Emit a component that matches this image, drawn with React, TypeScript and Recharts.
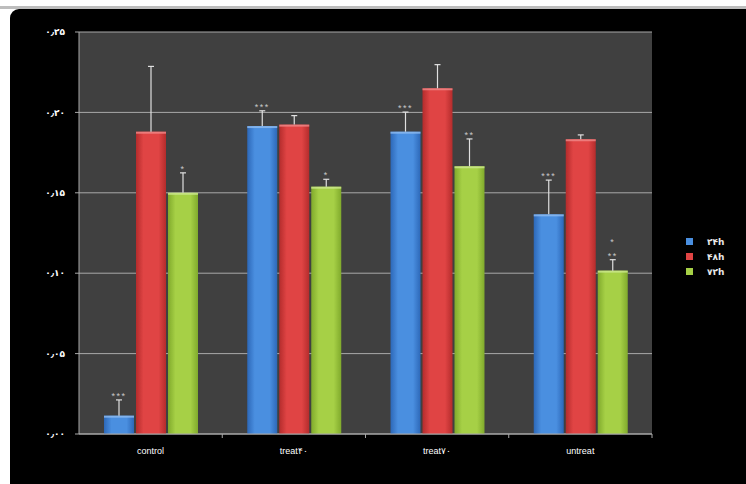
import React from "react";
import { Bar, BarChart, CartesianGrid, XAxis, YAxis } from "recharts";

const categories = ["control", "treat۴۰", "treat۷۰", "untreat"];
const series24h = [0.0114, 0.1915, 0.188, 0.1366];
const series48h = [0.188, 0.1924, 0.215, 0.1833];
const series72h = [0.15, 0.1538, 0.1665, 0.1016];
const error24h = [0.0098, 0.0095, 0.0122, 0.0213];
const error48h = [0.0406, 0.0056, 0.0147, 0.0027];
const error72h = [0.0124, 0.0046, 0.017, 0.0068];
const stars24h = ["***", "***", "***", "***"];
const stars48h = ["", "", "", ""];
const stars72h = ["*", "*", "**", "*|**"];
const yTicks = [0, 0.05, 0.1, 0.15, 0.2, 0.25];
const legendNames = ["۲۴h", "۴۸h", "۷۲h"];

const data = categories.map((name, i) => ({
  name,
  h24: series24h[i],
  h48: series48h[i],
  h72: series72h[i],
}));

const errors: Record<string, number[]> = { h24: error24h, h48: error48h, h72: error72h };
const stars: Record<string, string[]> = { h24: stars24h, h48: stars48h, h72: stars72h };

const faDigits = "۰۱۲۳۴۵۶۷۸۹";
const toFa = (s: string) => s.replace(/\d/g, (d) => faDigits[Number(d)]).replace(".", "٫");

const colors = {
  h24: { mid: "#4a8fe0", edge: "#2d68b8", top: "#8fbcf0" },
  h48: { mid: "#e04444", edge: "#b42c2c", top: "#f08a8a" },
  h72: { mid: "#a6d046", edge: "#80aa2c", top: "#cde88e" },
};

function makeShape(key: "h24" | "h48" | "h72") {
  return (props: any) => {
    const { x, y, width, height, index } = props;
    const value = data[index][key];
    const pxPerUnit = value > 0 ? height / value : 0;
    const errLen = errors[key][index] * pxPerUnit;
    const cx = x + width / 2;
    const errTop = y - errLen;
    const label = stars[key][index];
    const lines = label ? label.split("|") : [];
    return (
      <g>
        <rect x={x} y={y} width={width} height={height} fill={`url(#grad-${key})`} />
        <rect x={x} y={y} width={width} height={2} fill={colors[key].top} opacity={0.8} />
        <line x1={cx} y1={y} x2={cx} y2={errTop} stroke="#e0e0e0" strokeWidth={1.2} />
        <line x1={cx - 3} y1={errTop} x2={cx + 3} y2={errTop} stroke="#e0e0e0" strokeWidth={1.2} />
        {lines.map((t, li) => (
          <text
            key={li}
            x={cx}
            y={errTop - 1 - (lines.length - 1 - li) * 14}
            textAnchor="middle"
            fill="#c8c8c8"
            fontSize={9}
            letterSpacing={1.5}
            fontFamily="Liberation Sans, Arial, sans-serif"
          >
            {t}
          </text>
        ))}
      </g>
    );
  };
}

function CategoryTick(props: any) {
  const { x, y, payload } = props;
  const half = payload.offset ?? 0;
  return (
    <g>
      <line x1={x + half} y1={y - 8} x2={x + half} y2={y - 4} stroke="#a8a8a8" />
      <text
        x={x}
        y={y + 12}
        textAnchor="middle"
        fill="#ffffff"
        fontSize={9}
        fontFamily="Liberation Sans, Arial, sans-serif"
      >
        {payload.value}
      </text>
    </g>
  );
}

export default function App() {
  return (
    <div style={{ position: "absolute", left: 0, top: 0, width: 746, height: 484, background: "#ffffff", overflow: "hidden" }}>
      <div style={{ position: "absolute", left: 0, top: 6, width: 746, height: 3, background: "#bdbdbd" }} />
      <div
        style={{
          position: "absolute",
          left: 10,
          top: 9,
          width: 740,
          height: 480,
          background: "#000000",
          borderTopLeftRadius: 9,
        }}
      />
      <div style={{ position: "absolute", left: 0, top: 0 }}>
        <BarChart
          width={746}
          height={484}
          data={data}
          margin={{ top: 32, right: 94, bottom: 0, left: 0 }}
          barCategoryGap="17%"
          barGap={2}
        >
          <defs>
            {(["h24", "h48", "h72"] as const).map((k) => (
              <linearGradient key={k} id={`grad-${k}`} x1="0" y1="0" x2="1" y2="0">
                <stop offset="0%" stopColor={colors[k].edge} />
                <stop offset="25%" stopColor={colors[k].mid} />
                <stop offset="75%" stopColor={colors[k].mid} />
                <stop offset="100%" stopColor={colors[k].edge} />
              </linearGradient>
            ))}
          </defs>
          <CartesianGrid vertical={false} stroke="#a8a8a8" fill="#404040" fillOpacity={1} />
          <XAxis
            dataKey="name"
            height={50}
            axisLine={{ stroke: "#a8a8a8" }}
            tickLine={false}
            tick={<CategoryTick />}
            interval={0}
          />
          <YAxis
            width={79}
            domain={[0, 0.25]}
            ticks={yTicks}
            axisLine={{ stroke: "#a8a8a8" }}
            tickLine={{ stroke: "#a8a8a8" }}
            tickSize={4}
            tickMargin={10}
            tickFormatter={(v: number) => toFa(v.toFixed(2))}
            tick={{ fill: "#ffffff", fontSize: 9, letterSpacing: 1, fontFamily: "DejaVu Sans, sans-serif", fontWeight: "bold" }}
          />
          <Bar dataKey="h24" barSize={30} shape={makeShape("h24")} isAnimationActive={false} />
          <Bar dataKey="h48" barSize={30} shape={makeShape("h48")} isAnimationActive={false} />
          <Bar dataKey="h72" barSize={30} shape={makeShape("h72")} isAnimationActive={false} />
        </BarChart>
      </div>
      <div style={{ position: "absolute", left: 686, top: 234, fontFamily: "DejaVu Sans, sans-serif", fontSize: 9, color: "#e8e8e8", fontWeight: "bold" }}>
        {legendNames.map((n, i) => (
          <div key={n} style={{ display: "flex", alignItems: "center", height: 15 }}>
            <span
              style={{
                display: "inline-block",
                width: 7,
                height: 7,
                marginRight: 14,
                background: [colors.h24.mid, colors.h48.mid, colors.h72.mid][i],
              }}
            />
            <span>{n}</span>
          </div>
        ))}
      </div>
    </div>
  );
}
